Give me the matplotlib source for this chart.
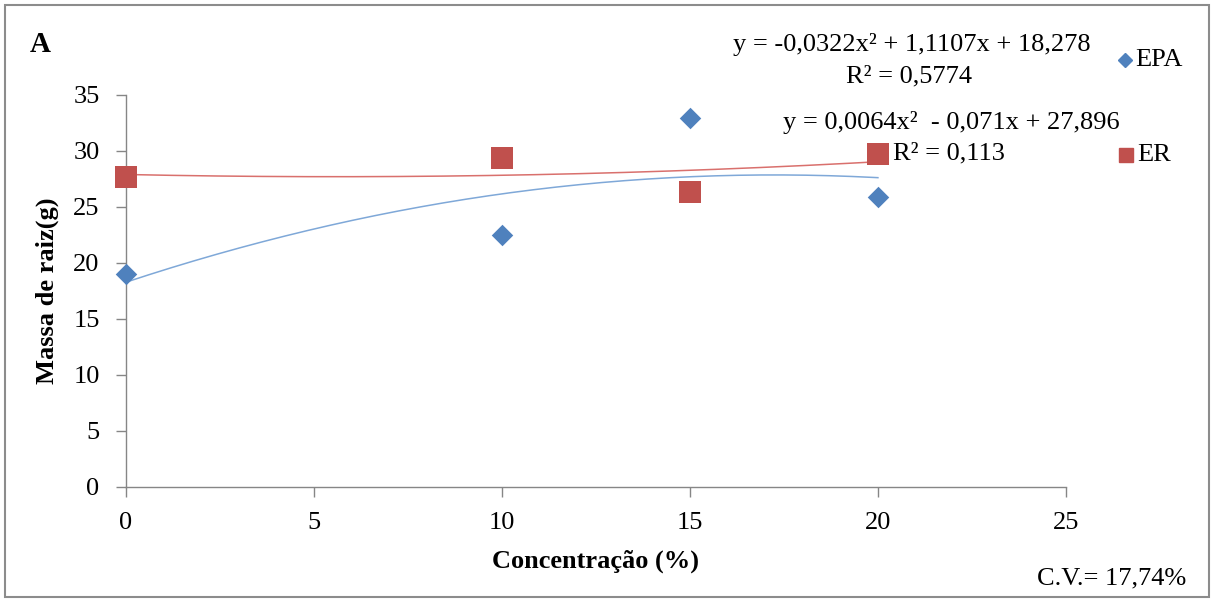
import numpy as np
import matplotlib
matplotlib.use("Agg")
import matplotlib.pyplot as plt
from matplotlib.patches import Rectangle

plt.rcParams['font.family'] = ['Liberation Serif', 'DejaVu Serif']

# Root mass by concentration for the two extracts
conc = [0, 10, 15, 20]
epa = [19.0, 22.5, 32.9, 25.9]
er = [27.7, 29.4, 26.3, 29.7]

# Quadratic trendline coefficients (a, b, c) and R²
epa_coef = (-0.0322, 1.1107, 18.278)
epa_r2 = 0.5774
er_coef = (0.0064, -0.071, 27.896)
er_r2 = 0.113

x_ticks = [0, 5, 10, 15, 20, 25]
y_ticks = [0, 5, 10, 15, 20, 25, 30, 35]

blue = '#4F81BD'
red = '#C0504D'
axis_gray = '#868686'
FS = 19

fig = plt.figure(figsize=(12.14, 6.01), dpi=100)
ax = fig.add_axes([0.1038, 0.19, 0.878 - 0.1038, 0.842 - 0.19])

xs = np.linspace(0, 20, 200)
ax.plot(xs, np.polyval(epa_coef, xs), color='#7FA8D8', lw=1.1, zorder=2)
ax.plot(xs, np.polyval(er_coef, xs), color='#D9706D', lw=1.1, zorder=2)

ax.scatter(conc, epa, marker='D', s=120, color=blue, zorder=3, linewidths=0, clip_on=False)
ax.scatter(conc, er, marker='s', s=240, color=red, zorder=3, linewidths=0, clip_on=False)

ax.set_xlim(0, 25)
ax.set_ylim(0, 35)
ax.set_xticks(x_ticks)
ax.set_yticks(y_ticks)
ax.tick_params(axis='both', direction='out', length=7, width=1, color=axis_gray,
               labelsize=FS)
ax.tick_params(axis='x', pad=11)
ax.tick_params(axis='y', pad=12)
for s in ['top', 'right']:
    ax.spines[s].set_visible(False)
for s in ['left', 'bottom']:
    ax.spines[s].set_color(axis_gray)
    ax.spines[s].set_linewidth(1)

ax.set_xlabel('Concentração (%)', fontsize=FS, fontweight='bold', labelpad=11)
ax.set_ylabel('Massa de raiz(g)', fontsize=FS, fontweight='bold', labelpad=10)

def fmt(v):
    return ('%g' % v).replace('.', ',')

epa_eq = 'y = %sx² + %sx + %s' % (fmt(epa_coef[0]), fmt(epa_coef[1]), fmt(epa_coef[2]))
er_eq = 'y = %sx²  - %sx + %s' % (fmt(er_coef[0]), fmt(abs(er_coef[1])), fmt(er_coef[2]))

W, H = 1214, 601
def ft(px, py, s, **kw):
    fig.text(px / W, 1 - py / H, s, **kw)

ft(30, 45, 'A', fontsize=21, fontweight='bold', ha='left', va='center')
ft(912, 45, epa_eq, fontsize=FS, ha='center', va='center')
ft(909, 76, 'R² = %s' % fmt(epa_r2), fontsize=FS, ha='center', va='center')
ft(951, 122, er_eq, fontsize=FS, ha='center', va='center')
ft(893, 153, 'R² = %s' % fmt(er_r2), fontsize=FS, ha='left', va='center')

# Legend entries
ft(1135, 60, 'EPA', fontsize=FS, ha='left', va='center')
ft(1137, 155, 'ER', fontsize=FS, ha='left', va='center')
fig.add_artist(plt.Line2D([1125 / W], [1 - 60 / H], marker='D', markersize=7,
                          color=blue, linestyle='none', transform=fig.transFigure))
fig.add_artist(plt.Line2D([1126 / W], [1 - 155 / H], marker='s', markersize=9.5,
                          color=red, linestyle='none', transform=fig.transFigure))

ft(1186, 578, 'C.V.= 17,74%', fontsize=FS, ha='right', va='center')

# Outer chart frame
fig.add_artist(Rectangle((5 / W, 4 / H), 1204 / W, 592 / H, transform=fig.transFigure,
                         fill=False, edgecolor='#8C8C8C', lw=1.5))

fig.savefig('out.png', dpi=100)
